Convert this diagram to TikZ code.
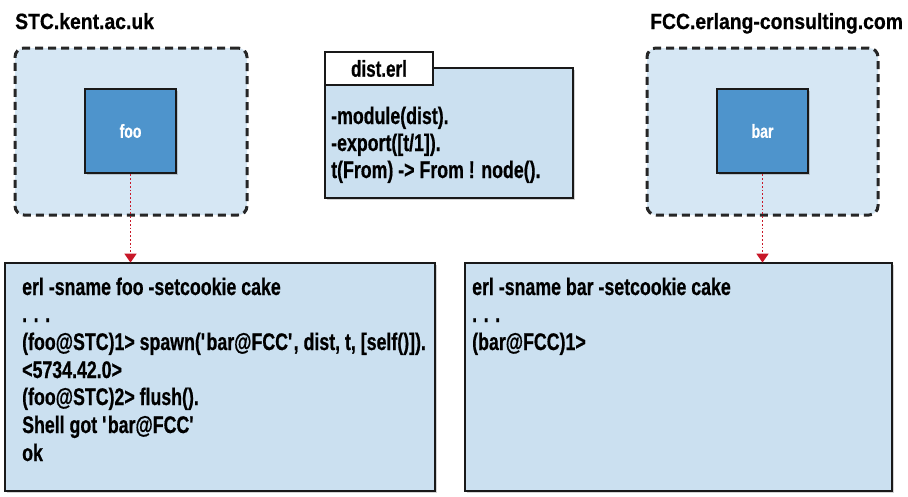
\documentclass[tikz,border=0pt]{standalone}
\usepackage{fontspec}
\setmainfont{Liberation Sans}[FakeStretch=0.74, BoldFeatures={FakeBold=0.6}]
\newfontfamily\titlefont{Liberation Sans}[FakeStretch=0.88, BoldFeatures={FakeBold=0.6}]
\usetikzlibrary{arrows.meta,shadows}
\definecolor{zone}{RGB}{214,231,244}
\definecolor{pane}{RGB}{203,224,240}
\definecolor{proc}{RGB}{78,148,204}
\definecolor{arrred}{RGB}{200,24,40}
\newcommand{\sq}{\textquotesingle}
\tikzset{
  zonebox/.style={draw=black!85, line width=3pt, dash pattern=on 8pt off 5pt, fill=zone, rounded corners=9pt, inner sep=0},
  procbox/.style={draw=black!90, line width=2.8pt, fill=proc, inner sep=0, text=white, font=\bfseries\fontsize{19}{22}\selectfont,
     drop shadow={opacity=0.35, shadow xshift=2pt, shadow yshift=-2pt}},
  panebox/.style={draw=black!90, line width=2.8pt, fill=pane, inner sep=0,
     drop shadow={opacity=0.35, shadow xshift=2pt, shadow yshift=-2pt}},
  tabbox/.style={draw=black!90, line width=2.6pt, fill=white, inner sep=0, font=\bfseries\fontsize{23}{26}\selectfont},
  title/.style={anchor=base west, inner sep=0, font=\titlefont\bfseries\fontsize{22}{26}\selectfont},
  code/.style={anchor=base west, inner sep=0, font=\bfseries\fontsize{24}{28}\selectfont},
  msg/.style={arrred, line width=1.8pt, dotted, -{Triangle[width=12pt,length=9pt]}, shorten >=-1pt}
}
\begin{document}
\begin{tikzpicture}[x=1pt,y=-1pt]
\useasboundingbox (0,0) rectangle (908,496);
% titles
\node[title] (t1) at (15,29) {STC.kent.ac.uk};
\node[title] (t2) at (650,29) {FCC.erlang-consulting.com};
% zones
\node[zonebox, minimum width=232pt, minimum height=167pt] (z1) at (131,131.5) {};
\node[zonebox, minimum width=231pt, minimum height=167pt] (z2) at (762.5,131.5) {};
\node[procbox, minimum width=91pt, minimum height=84pt] (foo) at (130.5,131) {foo};
\node[procbox, minimum width=91pt, minimum height=84pt] (bar) at (762.5,131) {bar};
% dist.erl
\node[panebox, minimum width=248pt, minimum height=130pt] (dist) at (449,133) {};
\node[tabbox, minimum width=108pt, minimum height=33pt] (tab) at (379,68.5) {dist.erl};
\node[code] (d1) at (331,124) {-module(dist).};
\node[code] (d2) at (331,151) {-export([t/1]).};
\node[code] (d3) at (331,178) {t(From) -> From ! node().};
% shells
\node[panebox, minimum width=430pt, minimum height=228pt] (lbox) at (220,377) {};
\node[panebox, minimum width=427pt, minimum height=228pt] (rbox) at (678.5,377) {};
\node[code] (a1) at (22,295) {erl -sname foo -setcookie cake};
\node[code] (a2) at (22,322) {. . .};
\node[code] (a3) at (22,350) {(foo@STC)1> spawn(\sq bar@FCC\sq, dist, t, [self()]).};
\node[code] (a4) at (22,378) {<5734.42.0>};
\node[code] (a5) at (22,405) {(foo@STC)2> flush().};
\node[code] (a6) at (22,433) {Shell got \sq bar@FCC\sq};
\node[code] (a7) at (22,461) {ok};
\node[code] (b1) at (472,295) {erl -sname bar -setcookie cake};
\node[code] (b2) at (472,322) {. . .};
\node[code] (b3) at (472,350) {(bar@FCC)1>};
% connectors
\draw[msg] (foo.south) -- (foo.south |- lbox.north);
\draw[msg] (bar.south) -- (bar.south |- rbox.north);
\end{tikzpicture}
\end{document}
